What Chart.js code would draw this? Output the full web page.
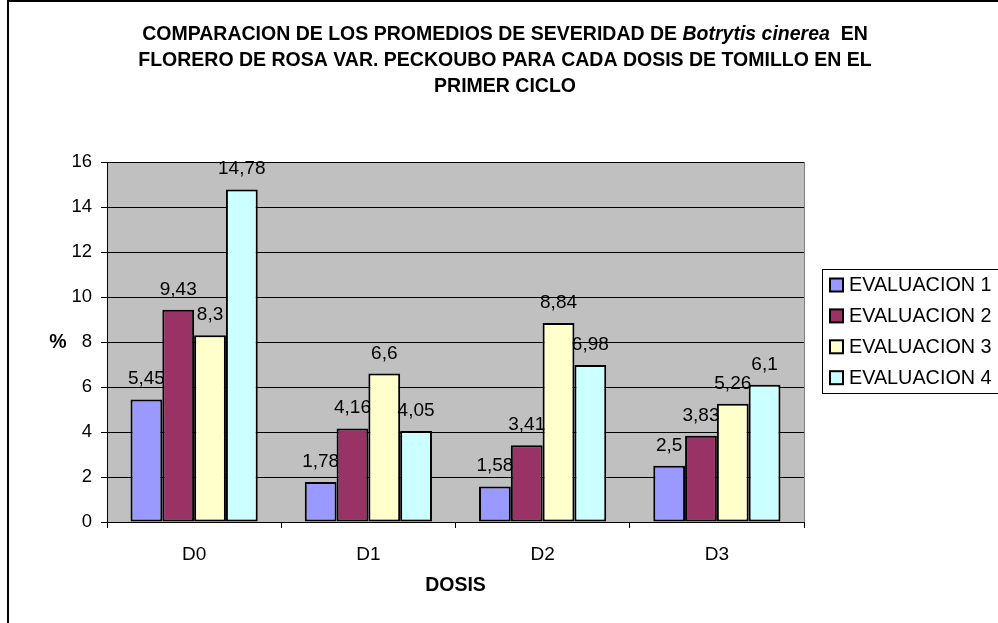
<!DOCTYPE html>
<html>
<head>
<meta charset="utf-8">
<script src="https://cdn.jsdelivr.net/npm/chart.js@4/dist/chart.umd.min.js"></script>
<style>
  html, body { margin: 0; padding: 0; background: #fff; }
  canvas { display: block; }
</style>
</head>
<body>
<canvas id="c" width="998" height="623"></canvas>
<script>
// Severidad media de Botrytis cinerea por dosis de tomillo (primer ciclo)
const dosis = ['D0', 'D1', 'D2', 'D3'];
const evaluacion1 = [5.45, 1.78, 1.58, 2.5];
const evaluacion2 = [9.43, 4.16, 3.41, 3.83];
const evaluacion3 = [8.3, 6.6, 8.84, 5.26];
const evaluacion4 = [14.78, 4.05, 6.98, 6.1];
const serieNombres = ['EVALUACION 1', 'EVALUACION 2', 'EVALUACION 3', 'EVALUACION 4'];
const yTicks = [0, 2, 4, 6, 8, 10, 12, 14, 16];

const colores = ['#9999FF', '#993366', '#FFFFCC', '#CCFFFF'];
const FONT = '"Liberation Sans", Arial, sans-serif';

const tituloLineas = [
  [{ t: 'COMPARACION DE LOS PROMEDIOS DE SEVERIDAD DE ', i: false }, { t: 'Botrytis cinerea', i: true }, { t: '  EN', i: false }],
  [{ t: 'FLORERO DE ROSA VAR. PECKOUBO PARA CADA DOSIS DE TOMILLO EN EL', i: false }],
  [{ t: 'PRIMER CICLO', i: false }]
];

const fmt = v => String(v).replace('.', ',');

// Fondo gris del área de trazado y marco del gráfico
const fondoPlugin = {
  id: 'fondo',
  beforeDraw(chart) {
    const { ctx, chartArea: a } = chart;
    ctx.save();
    ctx.fillStyle = '#C0C0C0';
    ctx.fillRect(a.left, a.top, a.right - a.left, a.bottom - a.top);
    // marco exterior
    ctx.strokeStyle = '#000';
    ctx.lineWidth = 2;
    ctx.beginPath();
    ctx.moveTo(8, 623);
    ctx.lineTo(8, 1);
    ctx.lineTo(998, 1);
    ctx.stroke();
    ctx.restore();
  },
  afterDraw(chart) {
    const { ctx, chartArea: a } = chart;
    ctx.save();
    ctx.strokeStyle = '#808080';
    ctx.lineWidth = 1;
    ctx.beginPath();
    ctx.moveTo(Math.round(a.right) + 0.5, a.top);
    ctx.lineTo(Math.round(a.right) + 0.5, a.bottom);
    ctx.stroke();
    ctx.restore();
  }
};

// Título con el nombre científico en cursiva
const tituloPlugin = {
  id: 'tituloMixto',
  afterDraw(chart) {
    const ctx = chart.ctx;
    ctx.save();
    ctx.fillStyle = '#000';
    ctx.textBaseline = 'middle';
    const cx = 505;
    const ys = [35, 61, 87];
    tituloLineas.forEach((linea, k) => {
      let total = 0;
      linea.forEach(s => {
        ctx.font = (s.i ? 'italic ' : '') + 'bold 19.5px ' + FONT;
        total += ctx.measureText(s.t).width;
      });
      let x = cx - total / 2;
      linea.forEach(s => {
        ctx.font = (s.i ? 'italic ' : '') + 'bold 19.5px ' + FONT;
        ctx.textAlign = 'left';
        ctx.fillText(s.t, x, ys[k]);
        x += ctx.measureText(s.t).width;
      });
    });
    // títulos de ejes
    ctx.font = 'bold 19.5px ' + FONT;
    ctx.textAlign = 'center';
    ctx.fillText('%', 58, 343);
    const a = chart.chartArea;
    ctx.fillText('DOSIS', (a.left + a.right) / 2, 586);
    ctx.restore();
  }
};

// Etiquetas de valor sobre cada barra
const etiquetasPlugin = {
  id: 'etiquetas',
  afterDatasetsDraw(chart) {
    const ctx = chart.ctx;
    ctx.save();
    ctx.font = '19px ' + FONT;
    ctx.fillStyle = '#000';
    ctx.textAlign = 'center';
    ctx.textBaseline = 'alphabetic';
    chart.data.datasets.forEach((ds, i) => {
      chart.getDatasetMeta(i).data.forEach((bar, j) => {
        ctx.fillText(fmt(ds.data[j]), bar.x, bar.y - 15);
      });
    });
    ctx.restore();
  }
};

// Leyenda con recuadro a la derecha
const leyendaPlugin = {
  id: 'leyendaCaja',
  afterDraw(chart) {
    const ctx = chart.ctx;
    ctx.save();
    ctx.fillStyle = '#fff';
    ctx.strokeStyle = '#000';
    ctx.lineWidth = 1;
    ctx.fillRect(823, 269, 175, 124);
    ctx.strokeRect(822.5, 269.5, 176, 124);
    ctx.font = '19.8px ' + FONT;
    ctx.textBaseline = 'middle';
    ctx.textAlign = 'left';
    chart.data.datasets.forEach((ds, i) => {
      const y = 285 + i * 30.9;
      ctx.fillStyle = ds.backgroundColor;
      ctx.fillRect(830, y - 6.5, 13, 13);
      ctx.lineWidth = 2;
      ctx.strokeStyle = '#000';
      ctx.strokeRect(830, y - 6.5, 13, 13);
      ctx.fillStyle = '#000';
      ctx.fillText(ds.label, 849, y + 1);
    });
    ctx.restore();
  }
};

const series = [evaluacion1, evaluacion2, evaluacion3, evaluacion4];

new Chart(document.getElementById('c'), {
  type: 'bar',
  data: {
    labels: dosis,
    datasets: series.map((d, i) => ({
      label: serieNombres[i],
      data: d,
      backgroundColor: colores[i],
      borderColor: '#000',
      borderWidth: 2,
      borderSkipped: false,
      barPercentage: 1,
      categoryPercentage: 0.73
    }))
  },
  options: {
    responsive: false,
    animation: false,
    devicePixelRatio: 1,
    layout: { padding: { left: 0, top: 162, right: 194, bottom: 0 } },
    plugins: {
      legend: { display: false },
      title: { display: false },
      tooltip: { enabled: false }
    },
    scales: {
      x: {
        offset: true,
        afterFit(s) { s.height = 101; },
        grid: { offset: true, drawOnChartArea: false, drawTicks: true, tickLength: 6, color: '#000' },
        border: { color: '#000', width: 1 },
        ticks: { font: { family: FONT, size: 19 }, color: '#000', padding: 15 }
      },
      y: {
        min: 0,
        max: 16,
        afterFit(s) { s.width = 107; },
        afterBuildTicks(s) { s.ticks = yTicks.map(v => ({ value: v })); },
        grid: { color: '#000', tickLength: 6, drawTicks: true },
        border: { color: '#000', width: 1 },
        ticks: { font: { family: FONT, size: 18.5 }, color: '#000', padding: 9 }
      }
    }
  },
  plugins: [fondoPlugin, tituloPlugin, etiquetasPlugin, leyendaPlugin]
});
</script>
</body>
</html>
